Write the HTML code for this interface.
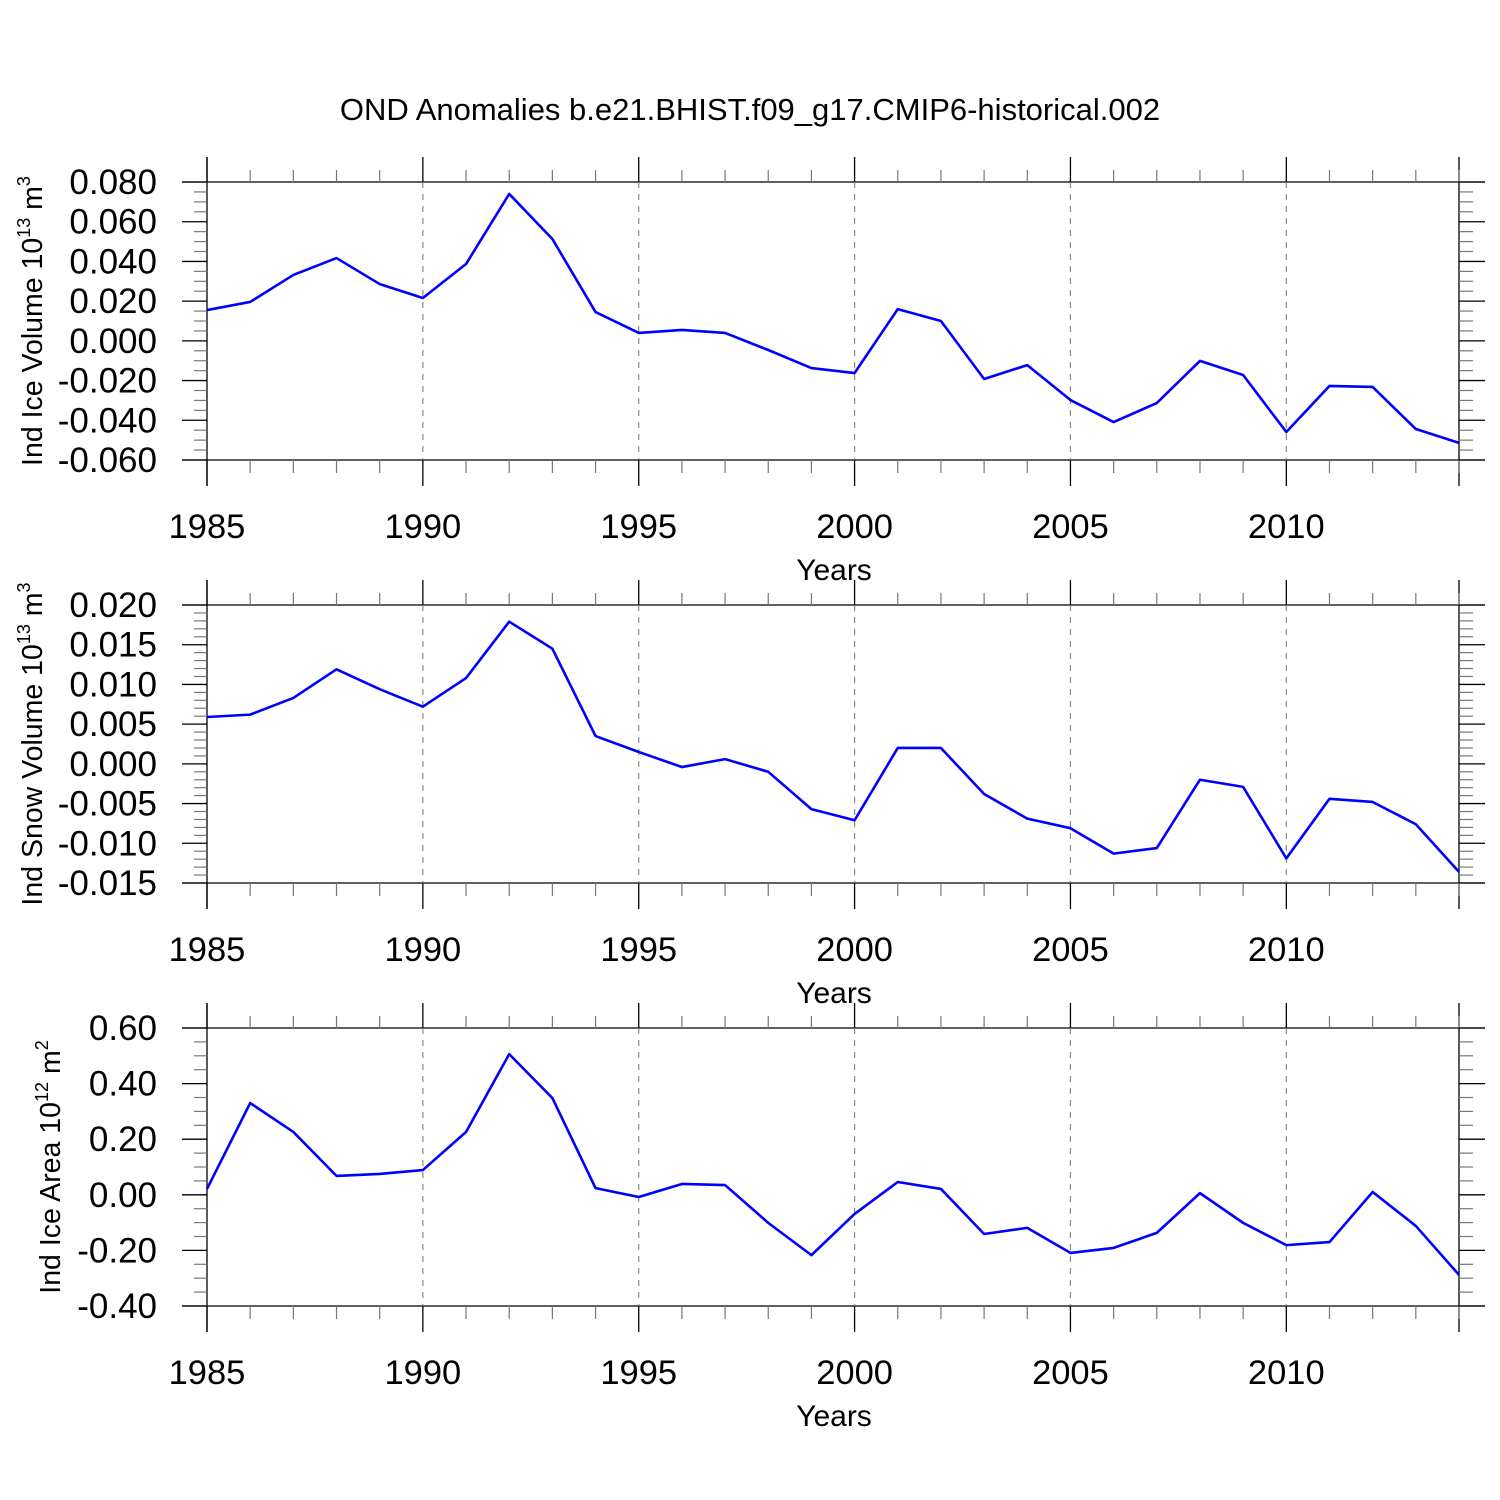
<!DOCTYPE html>
<html><head><meta charset="utf-8"><style>html,body{margin:0;padding:0;background:#fff}svg{display:block}text{font-family:"Liberation Sans",sans-serif;fill:#000}</style></head>
<body>
<svg id="chart" width="1500" height="1500" viewBox="0 0 1500 1500">
<text x="750" y="120" text-anchor="middle" font-size="31">OND Anomalies b.e21.BHIST.f09_g17.CMIP6-historical.002</text>
</svg>
<script>
const years = [1985,1986,1987,1988,1989,1990,1991,1992,1993,1994,1995,1996,1997,1998,1999,2000,2001,2002,2003,2004,2005,2006,2007,2008,2009,2010,2011,2012,2013,2014];
const iceVolume = [0.0155,0.0196,0.0332,0.0417,0.0286,0.0216,0.0387,0.0740,0.0513,0.0145,0.0040,0.0055,0.0040,-0.0046,-0.0137,-0.0162,0.0160,0.0100,-0.0192,-0.0122,-0.0298,-0.0409,-0.0313,-0.0101,-0.0172,-0.0459,-0.0227,-0.0232,-0.0444,-0.0514];
const snowVolume = [0.0059,0.0062,0.0083,0.0119,0.0094,0.0072,0.0108,0.0179,0.0145,0.0035,0.0015,-0.0004,0.0006,-0.0010,-0.0057,-0.0071,0.0020,0.0020,-0.0038,-0.0069,-0.0081,-0.0113,-0.0106,-0.0020,-0.0029,-0.0119,-0.0044,-0.0048,-0.0076,-0.0136];
const iceArea = [0.021,0.330,0.226,0.068,0.075,0.089,0.226,0.506,0.348,0.024,-0.008,0.039,0.035,-0.101,-0.217,-0.069,0.046,0.021,-0.141,-0.119,-0.209,-0.191,-0.137,0.006,-0.101,-0.181,-0.170,0.010,-0.112,-0.288];
const xTickLabels = ["1985","1990","1995","2000","2005","2010"];
const iceVolumeTicks = ["0.080","0.060","0.040","0.020","0.000","-0.020","-0.040","-0.060"];
const snowVolumeTicks = ["0.020","0.015","0.010","0.005","0.000","-0.005","-0.010","-0.015"];
const iceAreaTicks = ["0.60","0.40","0.20","0.00","-0.20","-0.40"];

const svg = document.getElementById('chart');
const NS = 'http://www.w3.org/2000/svg';
function mk(tag, attrs, parent){const e=document.createElementNS(NS,tag);for(const k in attrs)e.setAttribute(k,attrs[k]);(parent||svg).appendChild(e);return e;}
const X0=207, X1=1459;
function xs(yr){return X0+(yr-1985)*(X1-X0)/29;}

function panel(top, bottom, ymax, ymin, ticks, minorN, data, titleMain, sup, unit, unitSup, titleX, labelX, name){
  const g = mk('g',{});
  
  
  const ys = v => top+(ymax-v)*(bottom-top)/(ymax-ymin);
  const st = {stroke:'#000','stroke-width':1.3};
  mk('line',Object.assign({x1:182,y1:top,x2:1485,y2:top},st),g);
  mk('line',Object.assign({x1:182,y1:bottom,x2:1485,y2:bottom},st),g);
  mk('line',Object.assign({x1:X0,y1:top-25,x2:X0,y2:bottom+26},st),g);
  mk('line',Object.assign({x1:X1,y1:top-25,x2:X1,y2:bottom+26},st),g);
  for(let yr=1985; yr<=2014; yr++){
    const x=xs(yr);
    if(yr%5===0){
      mk('line',Object.assign({x1:x,y1:top-25,x2:x,y2:top},st),g);
      mk('line',Object.assign({x1:x,y1:bottom,x2:x,y2:bottom+26},st),g);
      if(yr>1985) mk('line',{x1:x,y1:top,x2:x,y2:bottom,stroke:'#888','stroke-width':1.2,'stroke-dasharray':'6,6'},g);
    } else {
      mk('line',{x1:x,y1:top-12,x2:x,y2:top,stroke:'#777','stroke-width':1.2},g);
      mk('line',{x1:x,y1:bottom,x2:x,y2:bottom+13,stroke:'#777','stroke-width':1.2},g);
    }
  }
  xTickLabels.forEach(l=>{
    const t=mk('text',{x:xs(+l),y:bottom+78,'text-anchor':'middle','font-size':34.5},g);
    t.textContent=l;
    
    
  });
  const yt=mk('text',{x:834,y:bottom+120,'text-anchor':'middle','font-size':30},g);
  yt.textContent='Years';
  
  
  const n=ticks.length;
  for(let i=0;i<n;i++){
    const v=ymax-i*(ymax-ymin)/(n-1);
    const y=ys(v);
    mk('line',Object.assign({x1:182,y1:y,x2:X0,y2:y},st),g);
    mk('line',Object.assign({x1:X1,y1:y,x2:1485,y2:y},st),g);
    const t=mk('text',{x:labelX,y:y+12,'text-anchor':'end','font-size':35},g);
    t.textContent=ticks[i];
    
    
    if(i<n-1){
      const step=(bottom-top)/(n-1);
      for(let m=1;m<=minorN;m++){
        const ym=y+m*step/(minorN+1);
        mk('line',{x1:194,y1:ym,x2:X0,y2:ym,stroke:'#777','stroke-width':1.2},g);
        mk('line',{x1:X1,y1:ym,x2:1473,y2:ym,stroke:'#777','stroke-width':1.2},g);
      }
    }
  }
  const cy=(top+bottom)/2;
  const tt=mk('text',{transform:`translate(${titleX},${cy}) rotate(-90)`,'text-anchor':'middle','font-size':28.5},g);
  
  
  const s1=mk('tspan',{},tt); s1.textContent=titleMain;
  const s2=mk('tspan',{dy:-12,'font-size':18},tt); s2.textContent=sup;
  const s3=mk('tspan',{dy:12},tt); s3.textContent=' '+unit;
  const s4=mk('tspan',{dy:-12,'font-size':18},tt); s4.textContent=unitSup;
  const pts=data.map((v,i)=>xs(years[i])+','+ys(v)).join(' ');
  const pl=mk('polyline',{points:pts,fill:'none',stroke:'#0000ff','stroke-width':2.6,'stroke-linejoin':'round'},g);
  
  
}
panel(182,460,0.08,-0.06,iceVolumeTicks,3,iceVolume,'Ind Ice Volume 10','13','m','3',42,157,'ice-volume');
panel(605,883,0.02,-0.015,snowVolumeTicks,4,snowVolume,'Ind Snow Volume 10','13','m','3',42,157,'snow-volume');
panel(1028,1306,0.6,-0.4,iceAreaTicks,3,iceArea,'Ind Ice Area 10','12','m','2',60,157,'ice-area');
</script>
</body></html>
